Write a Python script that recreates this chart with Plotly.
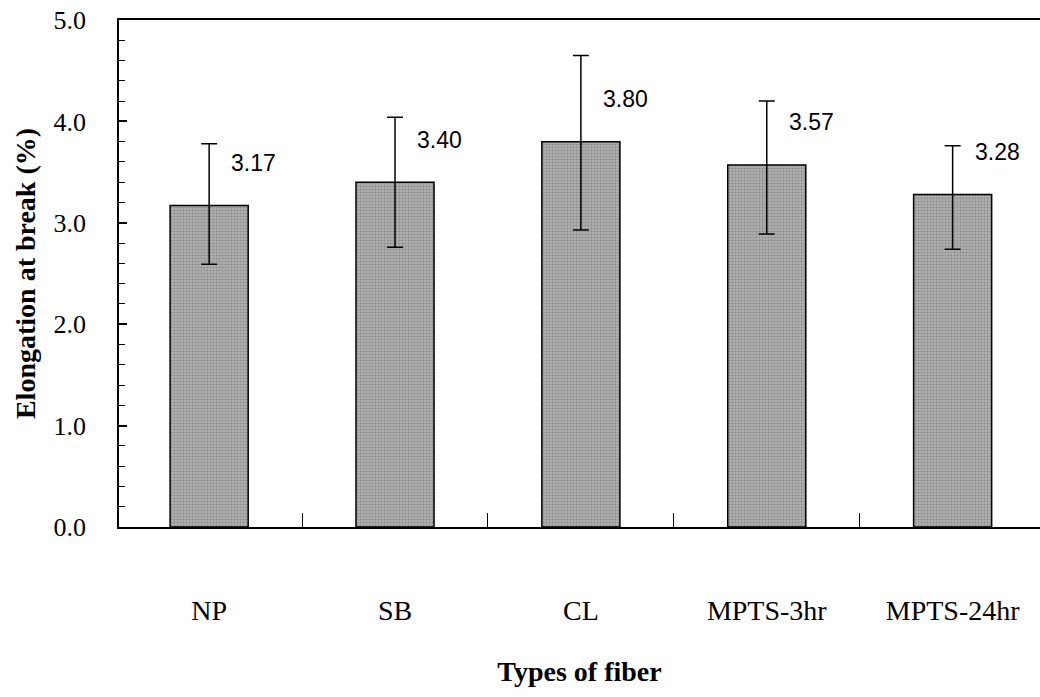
import plotly.graph_objects as go

categories = ["NP", "SB", "CL", "MPTS-3hr", "MPTS-24hr"]
elongation = [3.17, 3.40, 3.80, 3.57, 3.28]
err_plus = [0.61, 0.64, 0.85, 0.63, 0.48]
err_minus = [0.58, 0.64, 0.87, 0.68, 0.54]
value_labels = [f"{v:.2f}" for v in elongation]

FONT = "Liberation Serif"
LABEL_FONT = "Liberation Sans"

fig = go.Figure()
fig.add_trace(go.Bar(
    x=categories,
    y=elongation,
    width=0.42,
    marker=dict(
        color="#a0a0a0",
        line=dict(color="black", width=1.5),
        pattern=dict(shape=".", fgcolor="#666666", bgcolor="#b0b0b0", size=3, solidity=0.35),
    ),
    error_y=dict(
        type="data", symmetric=False,
        array=err_plus, arrayminus=err_minus,
        color="black", thickness=1.5, width=8,
    ),
    showlegend=False,
))

for cat, v, lab in zip(categories, elongation, value_labels):
    fig.add_annotation(
        x=cat, y=v + 0.42, text=lab, showarrow=False,
        xanchor="left", yanchor="middle", xshift=20,
        font=dict(family=LABEL_FONT, size=23, color="black"),
    )

fig.update_layout(
    width=1040, height=697,
    margin=dict(l=119, r=0, t=20, b=170),
    plot_bgcolor="white", paper_bgcolor="white",
    font=dict(family=FONT, color="black"),
)

fig.update_xaxes(
    type="category",
    range=[-0.485, 4.47],
    showline=True, linecolor="black", linewidth=1.5, mirror=True,
    ticks="inside", tickson="boundaries", ticklen=14, tickcolor="black", tickwidth=1,
    tickfont=dict(family=FONT, size=28, color="black"),
    ticklabelstandoff=58,
    showgrid=False,
    title=dict(text="<b>Types of fiber</b>", font=dict(family=FONT, size=28, color="black"), standoff=36),
)

fig.update_yaxes(
    range=[0, 5],
    dtick=1, tick0=0, tickformat=".1f",
    showline=True, linecolor="black", linewidth=1.5,
    ticks="inside", ticklen=8, tickcolor="black", tickwidth=1.5,
    minor=dict(dtick=0.2, ticks="inside", ticklen=6, tickcolor="black", tickwidth=1, showgrid=False),
    tickfont=dict(family=FONT, size=26, color="black"),
    ticklabelstandoff=26,
    showgrid=False, zeroline=False,
    title=dict(text="<b>Elongation at break (%)</b>", font=dict(family=FONT, size=28, color="black"), standoff=10),
)

fig.write_html("out.html")
